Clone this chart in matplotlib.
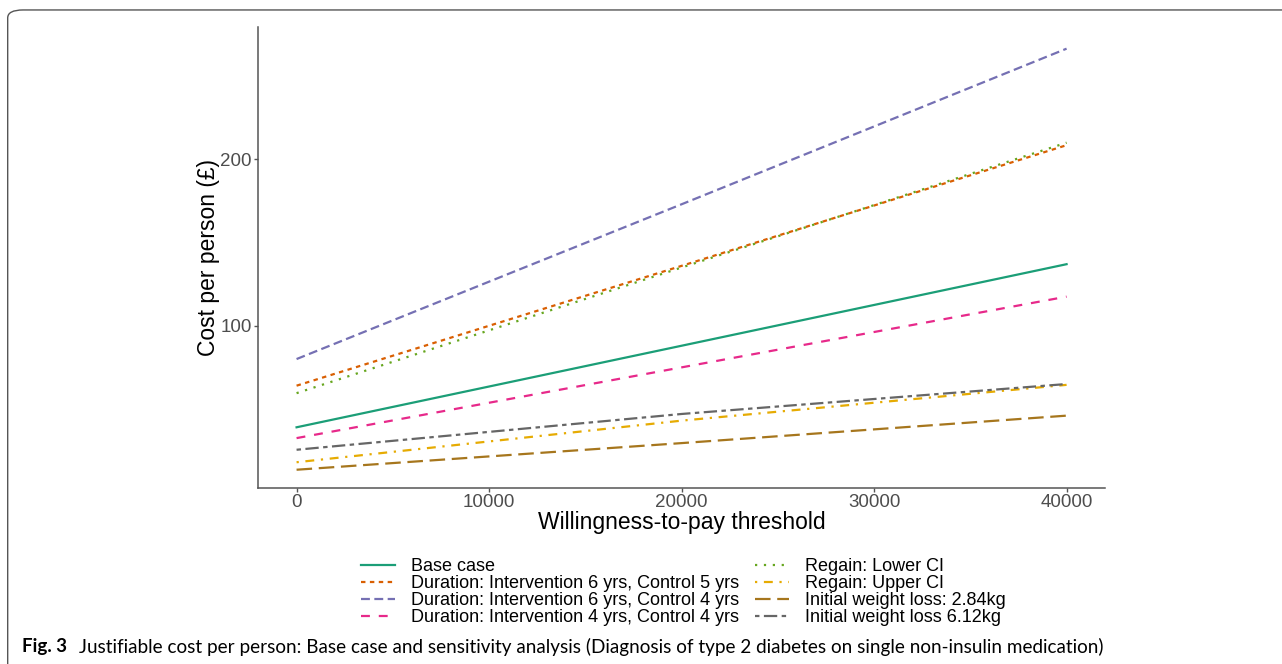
import numpy as np
import matplotlib.pyplot as plt
from matplotlib.patches import FancyBboxPatch

plt.rcParams['font.family'] = ['Liberation Sans', 'DejaVu Sans']

# willingness-to-pay thresholds and justifiable cost per person
wtp = [0, 20000, 40000]
labels = ["Base case",
          "Duration: Intervention 6 yrs, Control 5 yrs",
          "Duration: Intervention 6 yrs, Control 4 yrs",
          "Duration: Intervention 4 yrs, Control 4 yrs",
          "Regain: Lower CI",
          "Regain: Upper CI",
          "Initial weight loss: 2.84kg",
          "Initial weight loss 6.12kg"]
base_case = [39, 88, 137]
dur_6_5 = [64, 136, 208.5]
dur_6_4 = [80, 173, 266.5]
dur_4_4 = [32.5, 75, 117.5]
regain_lo = [59.5, 135, 210]
regain_hi = [18, 43, 64.5]
wl_284 = [13.5, 29.5, 46]
wl_612 = [25.5, 47, 65]
series = [base_case, dur_6_5, dur_6_4, dur_4_4, regain_lo, regain_hi, wl_284, wl_612]

# Dark2 palette + ggplot default linetypes
colors = ['#1B9E77', '#D95F02', '#7570B3', '#E7298A',
          '#66A61E', '#E6AB02', '#A6761D', '#666666']
dashes = [None, (2, 2), (4, 2), (4, 4), (1, 3), (1, 3, 4, 3), (7, 3), (2, 2, 6, 2)]

fig = plt.figure(figsize=(12.82, 6.64), dpi=100)
ax = fig.add_axes([0.2013, 0.265, 0.6607, 0.6943])

for ys, lab, c, d in zip(series, labels, colors, dashes):
    line, = ax.plot(wtp, ys, color=c, lw=1.6, label=lab)
    if d is not None:
        line.set_dashes(d)

ax.set_xlim(-2000, 42000)
ax.set_ylim(2.5, 279.5)
ax.set_xticks([0, 10000, 20000, 30000, 40000])
ax.set_yticks([100, 200])
for s in ['top', 'right']:
    ax.spines[s].set_visible(False)
for s in ['left', 'bottom']:
    ax.spines[s].set_color('#555555')
    ax.spines[s].set_linewidth(1.1)
ax.tick_params(colors='#555555', labelsize=13.5, length=3, width=1, labelcolor='#4D4D4D', pad=1.5)
ax.set_xlabel('Willingness-to-pay threshold', fontsize=16.5, labelpad=0)
ax.set_ylabel('Cost per person (£)', fontsize=16.5, labelpad=0)

fig.legend(loc='center', bbox_to_anchor=(0.533, 0.108), ncol=2, frameon=False,
           fontsize=13, labelspacing=0.0, handlelength=1.9, handletextpad=0.9,
           columnspacing=0.85, borderpad=0)

# journal frame and caption
frame = FancyBboxPatch((0.006, -0.05), 1.2, 1.035, boxstyle='round,pad=0,rounding_size=0.012',
                       transform=fig.transFigure, fill=False, ec='#555555', lw=1.0)
fig.patches.append(frame)
fig.text(0.017, 0.026, 'Fig. 3', fontsize=13.5, fontweight='bold', family='Lato', va='center')
fig.text(0.062, 0.026, 'Justifiable cost per person: Base case and sensitivity analysis '
         '(Diagnosis of type 2 diabetes on single non-insulin medication)',
         fontsize=13.6, family='Lato', va='center')

fig.savefig('out.png', dpi=100)
